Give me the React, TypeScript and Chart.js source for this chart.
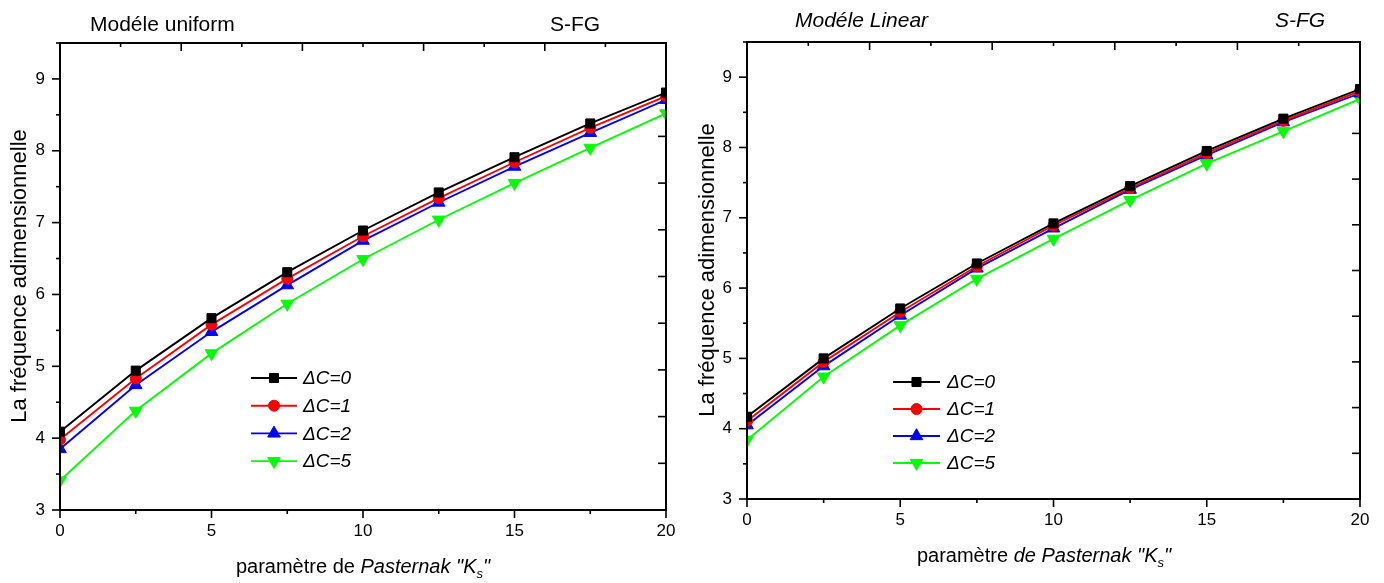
import { useEffect, useRef } from 'react';
import { Chart, registerables } from 'chart.js';

Chart.register(...registerables);

// Pasternak parameter values (x axis)
const KS = [0, 2.5, 5, 7.5, 10, 12.5, 15, 17.5, 20];
const SERIES_LABELS = ['ΔC=0', 'ΔC=1', 'ΔC=2', 'ΔC=5'];

// Uniform model
const UNIFORM_DC0 = [4.09, 4.94, 5.67, 6.31, 6.89, 7.42, 7.91, 8.38, 8.81];
const UNIFORM_DC1 = [3.98, 4.83, 5.58, 6.22, 6.81, 7.34, 7.84, 8.32, 8.76];
const UNIFORM_DC2 = [3.85, 4.74, 5.48, 6.13, 6.75, 7.28, 7.78, 8.25, 8.71];
const UNIFORM_DC5 = [3.41, 4.38, 5.18, 5.87, 6.49, 7.04, 7.55, 8.04, 8.52];

// Linear model
const LINEAR_DC0 = [4.17, 5.0, 5.71, 6.35, 6.92, 7.45, 7.95, 8.41, 8.83];
const LINEAR_DC1 = [4.11, 4.95, 5.66, 6.31, 6.89, 7.42, 7.92, 8.38, 8.8];
const LINEAR_DC2 = [4.05, 4.89, 5.61, 6.28, 6.85, 7.4, 7.89, 8.36, 8.77];
const LINEAR_DC5 = [3.84, 4.74, 5.47, 6.13, 6.7, 7.25, 7.77, 8.23, 8.69];

// Axis tick values
const X_LABEL_TICKS = [0, 5, 10, 15, 20];
const X_MINOR_TICKS = [2.5, 7.5, 12.5, 17.5];
const TOP_MAJOR_TICKS = [4, 8, 12, 16, 20];
const TOP_MINOR_TICKS = [2, 6, 10, 14, 18];
const Y_LABEL_TICKS = [3, 4, 5, 6, 7, 8, 9];
const Y_MINOR_TICKS = [3.5, 4.5, 5.5, 6.5, 7.5, 8.5, 9.5];
const RIGHT_TICKS = [3.65, 4.3, 4.95, 5.6, 6.25, 6.9, 7.55, 8.2];

const X_MIN = 0;
const X_MAX = 20;
const Y_MIN = 3;
const Y_MAX = 9.5;

const FONT = '"Liberation Sans", Arial, Helvetica, sans-serif';
const LINE_W = 1.9;

const STYLES = [
  { color: '#000000', pointStyle: 'rect', radius: 6.4, rotation: 0 },
  { color: '#ff0000', pointStyle: 'circle', radius: 5.5, rotation: 0 },
  { color: '#0000ff', pointStyle: 'triangle', radius: 7.3, rotation: 0 },
  { color: '#00ff00', pointStyle: 'triangle', radius: 7.3, rotation: 180 },
];

type Part = { text: string; italic?: boolean; sub?: boolean };

function drawRich(ctx: CanvasRenderingContext2D, parts: Part[], x: number, y: number, size: number, align: 'left' | 'center') {
  const fontFor = (p: Part) => `${p.italic ? 'italic ' : ''}${p.sub ? Math.round(size * 0.65) : size}px ${FONT}`;
  let total = 0;
  for (const p of parts) {
    ctx.font = fontFor(p);
    total += ctx.measureText(p.text).width;
  }
  let cx = align === 'center' ? x - total / 2 : x;
  ctx.textAlign = 'left';
  ctx.textBaseline = 'alphabetic';
  for (const p of parts) {
    ctx.font = fontFor(p);
    ctx.fillText(p.text, cx, p.sub ? y + size * 0.25 : y);
    cx += ctx.measureText(p.text).width;
  }
}

function drawMarker(ctx: CanvasRenderingContext2D, style: string, x: number, y: number, r: number, rot: number, color: string) {
  ctx.beginPath();
  if (style === 'rect') {
    const s = r * Math.SQRT1_2;
    ctx.rect(x - s, y - s, 2 * s, 2 * s);
  } else if (style === 'circle') {
    ctx.arc(x, y, r, 0, Math.PI * 2);
  } else {
    let a = (rot * Math.PI) / 180;
    for (let i = 0; i < 3; i++) {
      const px = x + Math.sin(a) * r;
      const py = y - Math.cos(a) * r;
      if (i === 0) ctx.moveTo(px, py);
      else ctx.lineTo(px, py);
      a += (2 * Math.PI) / 3;
    }
    ctx.closePath();
  }
  ctx.fillStyle = color;
  ctx.fill();
  ctx.lineWidth = 1;
  ctx.strokeStyle = color;
  ctx.stroke();
}

// Frame, Origin-style ticks, titles and the in-plot legend
const decorPlugin = {
  id: 'decor',
  afterDatasetsDraw(chart: any, _args: any, opts: any) {
    const ctx: CanvasRenderingContext2D = chart.ctx;
    const { left, right, top, bottom } = chart.chartArea;
    const xs = chart.scales.x;
    const ys = chart.scales.y;
    ctx.save();
    ctx.strokeStyle = '#000';
    ctx.lineCap = 'butt';

    const hTick = (vals: number[], yBase: number, len: number) => {
      for (const v of vals) {
        const px = xs.getPixelForValue(v);
        ctx.beginPath();
        ctx.moveTo(px, yBase);
        ctx.lineTo(px, yBase + len);
        ctx.stroke();
      }
    };
    const vTick = (vals: number[], xBase: number, len: number) => {
      for (const v of vals) {
        const py = ys.getPixelForValue(v);
        ctx.beginPath();
        ctx.moveTo(xBase, py);
        ctx.lineTo(xBase + len, py);
        ctx.stroke();
      }
    };
    ctx.lineWidth = 1.6;
    hTick(X_LABEL_TICKS, bottom, 8);
    hTick(X_MINOR_TICKS, bottom, 4);
    hTick(TOP_MAJOR_TICKS, top, 8);
    hTick(TOP_MINOR_TICKS, top, 4);
    vTick(Y_LABEL_TICKS, left, -8);
    vTick(Y_MINOR_TICKS, left, -4);
    vTick(RIGHT_TICKS, right, -8);

    ctx.lineWidth = 2;
    ctx.strokeRect(left, top, right - left, bottom - top);

    // legend
    const lg = opts.legend;
    chart.data.datasets.forEach((ds: any, i: number) => {
      const st = STYLES[i];
      const y = lg.y + i * lg.dy;
      ctx.beginPath();
      ctx.strokeStyle = st.color;
      ctx.lineWidth = LINE_W;
      ctx.moveTo(lg.x1, y);
      ctx.lineTo(lg.x2, y);
      ctx.stroke();
      drawMarker(ctx, st.pointStyle, (lg.x1 + lg.x2) / 2, y, st.radius, st.rotation, st.color);
      ctx.fillStyle = '#000';
      ctx.font = `italic 19px ${FONT}`;
      ctx.textAlign = 'left';
      ctx.textBaseline = 'middle';
      ctx.fillText(ds.label, lg.textX, y + 1);
    });

    // titles
    ctx.fillStyle = '#000';
    for (const t of opts.titles) {
      drawRich(ctx, t.parts, t.x, t.y, t.size, t.align);
    }
    // y axis title
    ctx.save();
    ctx.translate(opts.yTitle.x, opts.yTitle.y);
    ctx.rotate(-Math.PI / 2);
    drawRich(ctx, [{ text: 'La fréquence adimensionnelle' }], 0, 0, 22, 'center');
    ctx.restore();

    ctx.restore();
  },
};

type PanelCfg = {
  offset: number;
  series: number[][];
  area: { left: number; right: number; top: number; bottom: number };
  legend: { x1: number; x2: number; textX: number; y: number; dy: number };
  titles: { parts: Part[]; x: number; y: number; size: number; align: 'left' | 'center' }[];
  yTitle: { x: number; y: number };
};

const W = 692;
const H = 583;

function Panel({ cfg }: { cfg: PanelCfg }) {
  const ref = useRef<HTMLCanvasElement>(null);
  useEffect(() => {
    const canvas = ref.current;
    if (!canvas) return;
    const datasets = cfg.series.map((vals, i) => {
      const st = STYLES[i];
      return {
        label: SERIES_LABELS[i],
        data: KS.map((k, j) => ({ x: k, y: vals[j] })),
        borderColor: st.color,
        backgroundColor: st.color,
        borderWidth: LINE_W,
        pointStyle: st.pointStyle,
        pointRadius: st.radius,
        pointRotation: st.rotation,
        pointBorderWidth: 1,
        pointBackgroundColor: st.color,
        pointBorderColor: st.color,
        tension: 0,
        clip: 0,
      };
    });
    const chart = new Chart(canvas, {
      type: 'line',
      data: { datasets: datasets as any },
      options: {
        animation: false,
        responsive: false,
        maintainAspectRatio: false,
        events: [],
        layout: { padding: { left: 0, top: cfg.area.top, right: W - cfg.area.right, bottom: 0 } },
        scales: {
          x: {
            type: 'linear',
            min: X_MIN,
            max: X_MAX,
            afterFit: (s: any) => {
              s.height = H - cfg.area.bottom;
            },
            afterBuildTicks: (s: any) => {
              s.ticks = X_LABEL_TICKS.map((v) => ({ value: v }));
            },
            ticks: { color: '#000', font: { family: FONT, size: 17 }, padding: 11, maxRotation: 0 },
            grid: { display: false, drawTicks: false },
            border: { display: false },
          },
          y: {
            type: 'linear',
            min: Y_MIN,
            max: Y_MAX,
            afterFit: (s: any) => {
              s.width = cfg.area.left;
            },
            afterBuildTicks: (s: any) => {
              s.ticks = Y_LABEL_TICKS.map((v) => ({ value: v }));
            },
            ticks: { color: '#000', font: { family: FONT, size: 17 }, padding: 15 },
            grid: { display: false, drawTicks: false },
            border: { display: false },
          },
        },
        plugins: {
          legend: { display: false },
          tooltip: { enabled: false },
          title: { display: false },
          decor: { legend: cfg.legend, titles: cfg.titles, yTitle: cfg.yTitle },
        } as any,
      },
      plugins: [decorPlugin as any],
    });
    return () => chart.destroy();
  }, [cfg]);
  return (
    <div style={{ position: 'absolute', left: cfg.offset, top: 0, width: W, height: H }}>
      <canvas ref={ref} width={W} height={H} style={{ display: 'block' }} />
    </div>
  );
}

const UNIFORM_PANEL: PanelCfg = {
  offset: 0,
  series: [UNIFORM_DC0, UNIFORM_DC1, UNIFORM_DC2, UNIFORM_DC5],
  area: { left: 60, right: 666, top: 43, bottom: 510 },
  legend: { x1: 251, x2: 297, textX: 303, y: 378, dy: 27.7 },
  titles: [
    { parts: [{ text: 'Modéle uniform' }], x: 90, y: 30.5, size: 21, align: 'left' },
    { parts: [{ text: 'S-FG' }], x: 550, y: 30.5, size: 21, align: 'left' },
    {
      parts: [
        { text: 'paramètre de ' },
        { text: 'Pasternak "K', italic: true },
        { text: 's', italic: true, sub: true },
        { text: '"', italic: true },
      ],
      x: 363,
      y: 573,
      size: 20,
      align: 'center',
    },
  ],
  yTitle: { x: 26, y: 276 },
};

const LINEAR_PANEL: PanelCfg = {
  offset: 692,
  series: [LINEAR_DC0, LINEAR_DC1, LINEAR_DC2, LINEAR_DC5],
  area: { left: 55, right: 668, top: 42, bottom: 499 },
  legend: { x1: 201, x2: 248, textX: 255, y: 382, dy: 27 },
  titles: [
    { parts: [{ text: 'Modéle Linear', italic: true }], x: 103, y: 27, size: 21, align: 'left' },
    { parts: [{ text: 'S-FG', italic: true }], x: 583, y: 27, size: 21, align: 'left' },
    {
      parts: [
        { text: 'paramètre ' },
        { text: 'de Pasternak "K', italic: true },
        { text: 's', italic: true, sub: true },
        { text: '"', italic: true },
      ],
      x: 352,
      y: 562,
      size: 20,
      align: 'center',
    },
  ],
  yTitle: { x: 22, y: 270 },
};

export default function App() {
  useEffect(() => {
    document.body.style.margin = '0';
    document.body.style.background = '#fff';
  }, []);
  return (
    <div style={{ position: 'relative', width: 1384, height: 583, background: '#fff', overflow: 'hidden' }}>
      <Panel cfg={UNIFORM_PANEL} />
      <Panel cfg={LINEAR_PANEL} />
    </div>
  );
}
